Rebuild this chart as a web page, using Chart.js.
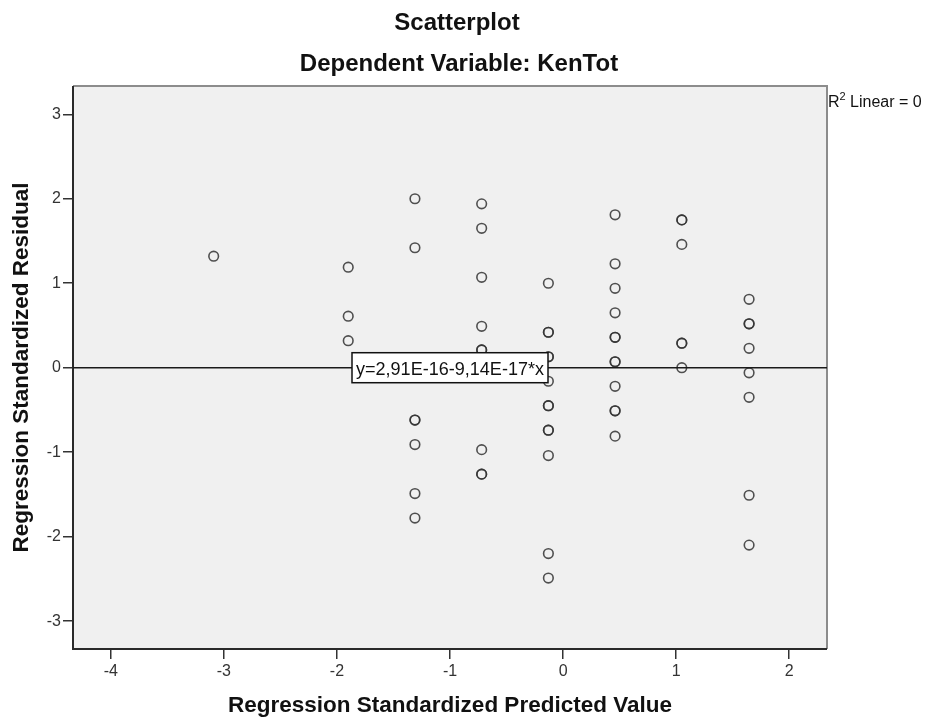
<!DOCTYPE html>
<html>
<head>
<meta charset="utf-8">
<title>Scatterplot</title>
<script src="https://cdn.jsdelivr.net/npm/chart.js@4/dist/chart.umd.min.js"></script>
<style>
    html, body { margin: 0; padding: 0; background: #fff; }
    #wrap { width: 926px; height: 720px; }
</style>
</head>
<body>
<div id="wrap"><canvas id="scatter" width="926" height="720"></canvas></div>
<script>
// Regression standardized predicted value (x) vs standardized residual (y)
// repeated pairs are cases that sit on top of each other
const predicted = [
    -3.09,
    -1.90, -1.90, -1.90,
    -1.31, -1.31, -1.31, -1.31, -1.31, -1.31, -1.31,
    -0.72, -0.72, -0.72, -0.72, -0.72, -0.72, -0.72, -0.72, -0.72,
    -0.13, -0.13, -0.13, -0.13, -0.13, -0.13, -0.13, -0.13, -0.13, -0.13, -0.13, -0.13, -0.13,
    0.46, 0.46, 0.46, 0.46, 0.46, 0.46, 0.46, 0.46, 0.46, 0.46, 0.46, 0.46,
    1.05, 1.05, 1.05, 1.05, 1.05, 1.05,
    1.645, 1.645, 1.645, 1.645, 1.645, 1.645, 1.645, 1.645
];
const residual = [
    1.32,
    1.19, 0.61, 0.32,
    2.00, 1.42, -0.62, -0.62, -0.91, -1.49, -1.78,
    1.94, 1.65, 1.07, 0.49, 0.21, 0.21, -0.97, -1.26, -1.26,
    1.00, 0.42, 0.42, 0.13, 0.13, -0.16, -0.45, -0.45, -0.74, -0.74, -1.04, -2.20, -2.49,
    1.81, 1.23, 0.94, 0.65, 0.36, 0.36, 0.07, 0.07, -0.22, -0.51, -0.51, -0.81,
    1.75, 1.75, 1.46, 0.29, 0.29, 0.00,
    0.81, 0.52, 0.52, 0.23, -0.06, -0.35, -1.51, -2.10
];

const xTicks = [-4, -3, -2, -1, 0, 1, 2];
const yTicks = [-3, -2, -1, 0, 1, 2, 3];
const xRange = [-4.334, 2.334];
const yRange = [-3.33, 3.335];

// fit line from the SPSS output
const fitIntercept = 2.91e-16;
const fitSlope = -9.14e-17;
const fitLabel = 'y=2,91E-16-9,14E-17*x';

const titleLines = ['Scatterplot', 'Dependent Variable: KenTot'];
const xTitle = 'Regression Standardized Predicted Value';
const yTitle = 'Regression Standardized Residual';

const FONT = '"Liberation Sans", Arial, sans-serif';

// plot panel: grey fill and the frame (dark left/bottom, light top/right)
const panelPlugin = {
    id: 'panel',
    beforeDraw(chart) {
        const { ctx, chartArea: a } = chart;
        ctx.save();
        ctx.fillStyle = '#fff';
        ctx.fillRect(0, 0, chart.width, chart.height);
        ctx.fillStyle = '#f0f0f0';
        ctx.fillRect(a.left, a.top, a.right - a.left, a.bottom - a.top);
        ctx.restore();
    },
    beforeDatasetsDraw(chart) {
        const { ctx, chartArea: a } = chart;
        ctx.save();
        ctx.lineWidth = 2;
        ctx.strokeStyle = '#8c8c8c';
        ctx.beginPath();
        ctx.moveTo(a.left, a.top);
        ctx.lineTo(a.right, a.top);
        ctx.lineTo(a.right, a.bottom);
        ctx.stroke();
        ctx.strokeStyle = '#2a2a2a';
        ctx.beginPath();
        ctx.moveTo(a.left, a.top);
        ctx.lineTo(a.left, a.bottom);
        ctx.lineTo(a.right, a.bottom);
        ctx.stroke();
        ctx.restore();
    }
};

// titles, R squared note and the equation box on the fit line
const notesPlugin = {
    id: 'notes',
    afterDraw(chart) {
        const { ctx, chartArea: a } = chart;
        const xs = chart.scales.x, ys = chart.scales.y;
        ctx.save();
        ctx.fillStyle = '#111';
        ctx.textAlign = 'center';
        ctx.textBaseline = 'alphabetic';
        ctx.font = 'bold 24px ' + FONT;
        ctx.fillText(titleLines[0], 457, 30);
        ctx.fillText(titleLines[1], 459, 71);

        // R² Linear = 0
        ctx.textAlign = 'left';
        ctx.font = '16px ' + FONT;
        let tx = a.right + 1;
        ctx.fillText('R', tx, 106.5);
        tx += ctx.measureText('R').width;
        ctx.font = '11px ' + FONT;
        ctx.fillText('2', tx, 100);
        tx += ctx.measureText('2').width;
        ctx.font = '16px ' + FONT;
        ctx.fillText(' Linear = 0', tx, 106.5);

        // equation label centred on the line
        const midX = (xs.min + xs.max) / 2;
        const cx = xs.getPixelForValue(midX);
        const cy = ys.getPixelForValue(fitIntercept + fitSlope * midX);
        const w = 196, h = 30;
        ctx.fillStyle = '#fff';
        ctx.fillRect(cx - w / 2, cy - h / 2, w, h);
        ctx.lineWidth = 1.5;
        ctx.strokeStyle = '#111';
        ctx.strokeRect(cx - w / 2, cy - h / 2, w, h);
        ctx.fillStyle = '#111';
        ctx.textAlign = 'center';
        ctx.font = '19px ' + FONT;
        ctx.fillText(fitLabel, cx, cy + 7.5, w - 8);
        ctx.restore();
    }
};

const points = predicted.map((x, i) => ({ x: x, y: residual[i] }));
const fitLine = xRange.map(x => ({ x: x, y: fitIntercept + fitSlope * x }));

new Chart(document.getElementById('scatter'), {
    type: 'scatter',
    data: {
        datasets: [{
            type: 'line',
            data: fitLine,
            borderColor: '#1a1a1a',
            borderWidth: 1.6,
            pointRadius: 0,
            order: 0
        }, {
            data: points,
            pointStyle: 'circle',
            pointRadius: 4.8,
            pointBorderWidth: 1.6,
            pointBorderColor: 'rgba(50, 50, 50, 0.85)',
            pointBackgroundColor: 'rgba(0, 0, 0, 0)',
            order: 1
        }]
    },
    options: {
        responsive: false,
        animation: false,
        devicePixelRatio: 1,
        layout: { padding: { top: 86, right: 99, left: 0, bottom: 0 } },
        plugins: {
            legend: { display: false },
            tooltip: { enabled: false },
            title: { display: false }
        },
        scales: {
            x: {
                type: 'linear',
                position: 'bottom',
                min: xRange[0],
                max: xRange[1],
                afterBuildTicks: s => { s.ticks = xTicks.map(v => ({ value: v })); },
                afterFit: s => { s.height = 71; },
                border: { display: false },
                grid: { drawOnChartArea: false, drawTicks: true, tickLength: 10, color: '#333', lineWidth: 1.5 },
                ticks: { font: { family: FONT, size: 16 }, color: '#333', padding: 3, maxRotation: 0 },
                title: {
                    display: true,
                    text: xTitle,
                    color: '#111',
                    font: { family: FONT, size: 22.5, weight: 'bold' },
                    padding: { top: 0, bottom: 1 }
                }
            },
            y: {
                type: 'linear',
                position: 'left',
                min: yRange[0],
                max: yRange[1],
                afterBuildTicks: s => { s.ticks = yTicks.map(v => ({ value: v })); },
                afterFit: s => { s.width = 73; },
                border: { display: false },
                grid: { drawOnChartArea: false, drawTicks: true, tickLength: 10, color: '#333', lineWidth: 1.5 },
                ticks: { font: { family: FONT, size: 16 }, color: '#333', padding: 2 },
                title: {
                    display: true,
                    text: yTitle,
                    color: '#111',
                    font: { family: FONT, size: 22.5, weight: 'bold' },
                    padding: { top: 8.5, bottom: 0 }
                }
            }
        }
    },
    plugins: [panelPlugin, notesPlugin]
});
</script>
</body>
</html>
